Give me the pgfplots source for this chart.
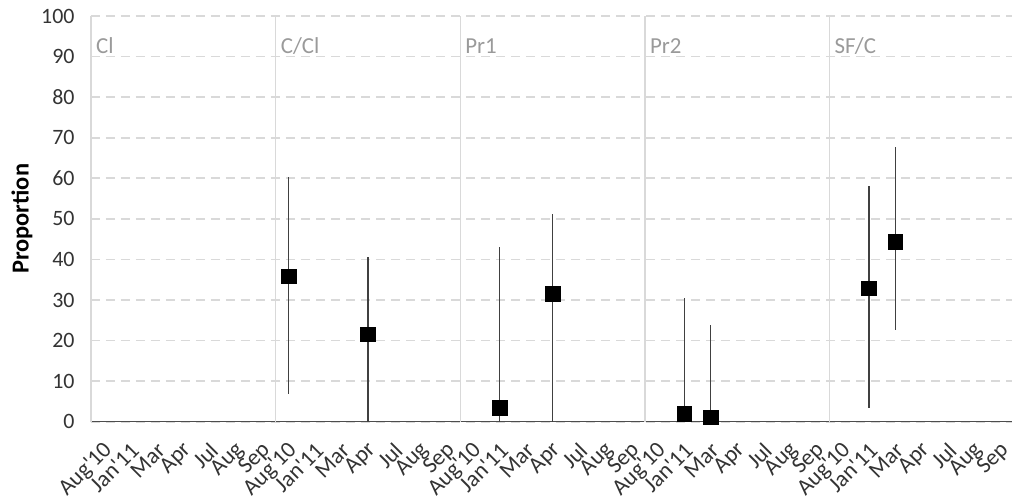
\documentclass[border=0pt]{standalone}
\usepackage{fontspec}
\setmainfont{Carlito}
\usepackage{pgfplots}
\pgfplotsset{compat=1.18}

\definecolor{gridgray}{HTML}{D9D9D9}
\definecolor{sepgray}{HTML}{D9D9D9}
\definecolor{axisgray}{HTML}{4D4D4D}
\definecolor{errgray}{HTML}{404040}
\definecolor{labelgray}{HTML}{9A9A9A}
\definecolor{textgray}{HTML}{333333}

\newcommand{\yr}[2]{#1\textquotesingle#2}

\begin{document}
\begin{tikzpicture}
\begin{axis}[
  at={(0,0)}, anchor=south west,
  scale only axis, width=923bp, height=405.7bp,
  xmin=0, xmax=35, ymin=0, ymax=100,
  clip=false,
  axis x line*=bottom, axis y line*=left,
  axis line style={-, draw=axisgray, line width=1.3bp},
  /pgf/number format/assume math mode=true,
  ytick={0,10,...,100},
  ymajorgrids,
  major grid style={draw=gridgray, line width=1.8bp, dash pattern=on 9bp off 6bp},
  ytick style={draw=none},
  yticklabel style={font=\fontsize{22}{22}\selectfont, text=textgray, anchor=east, xshift=-13bp},
  xtick={0.5,1.5,...,34.5},
  xticklabels={\yr{Aug}{10},\yr{Jan}{11},Mar,Apr,Jul,Aug,Sep,
               \yr{Aug}{10},\yr{Jan}{11},Mar,Apr,Jul,Aug,Sep,
               \yr{Aug}{10},\yr{Jan}{11},Mar,Apr,Jul,Aug,Sep,
               \yr{Aug}{10},\yr{Jan}{11},Mar,Apr,Jul,Aug,Sep,
               \yr{Aug}{10},\yr{Jan}{11},Mar,Apr,Jul,Aug,Sep},
  xtick style={draw=none},
  xticklabel style={font=\fontsize{23}{23}\selectfont, text=textgray, inner sep=0pt,
                    xshift=4.5bp, yshift=-25bp, rotate=45, anchor=east},
  major tick length=0pt,
  tick align=outside,
  extra x ticks={0,7,14,21,28},
  extra x tick labels={},
  extra x tick style={grid=major,
      major grid style={draw=sepgray, line width=1.4bp, solid},
      tick style={draw=axisgray, line width=1.3bp},
      major tick length=7bp},
  ylabel={Proportion},
  ylabel style={at={(axis description cs:-0.0677,0.5)}, anchor=base,
                font=\bfseries\fontsize{24.5}{24.5}\selectfont, text=black},
]
% estimates with their lower and upper bounds
\addplot[only marks, mark=square*, mark size=7.3bp,
         mark options={draw=black, fill=black},
         error bars/.cd, y dir=both, y explicit, error mark=none,
         error bar style={draw=errgray, line width=1.3bp}]
coordinates {
  (7.5,35.9)  += (0,24.3) -= (0,29.1)
  (10.5,21.6) += (0,19.1) -= (0,21.6)
  (15.5,3.5)  += (0,39.6) -= (0,3.5)
  (17.5,31.6) += (0,19.6) -= (0,31.6)
  (22.5,2.0)  += (0,28.4) -= (0,2.0)
  (23.5,1.1)  += (0,22.7) -= (0,1.1)
  (29.5,32.9) += (0,25.3) -= (0,29.4)
  (30.5,44.3) += (0,23.5) -= (0,21.7)
};

% group names
\begin{scope}[every node/.style={anchor=base west, inner sep=0pt, text=labelgray,
                                  font=\fontsize{23}{23}\selectfont, xshift=5bp, yshift=3.3bp}]
  \node at (axis cs:0,90)  {Cl};
  \node at (axis cs:7,90)  {C/Cl};
  \node at (axis cs:14,90) {Pr1};
  \node at (axis cs:21,90) {Pr2};
  \node at (axis cs:28,90) {SF/C};
\end{scope}
\end{axis}
\pgfresetboundingbox
\path[use as bounding box] (-91bp,-79.3bp) rectangle (921bp,421.7bp);
\end{tikzpicture}
\end{document}
